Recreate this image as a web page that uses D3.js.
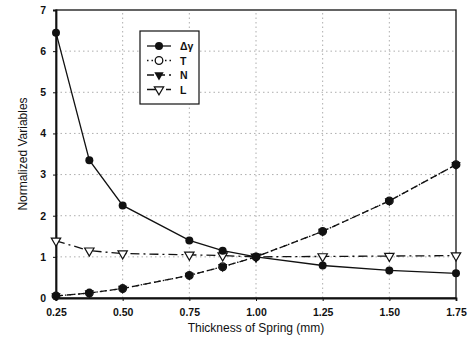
<!DOCTYPE html>
<html>
<head>
<meta charset="utf-8">
<script src="https://cdn.jsdelivr.net/npm/d3@7"></script>
<style>
  html, body { margin: 0; padding: 0; background: #fff; }
  svg { display: block; }
  text { font-family: "Liberation Sans", Arial, sans-serif; fill: #111; }
</style>
</head>
<body>
<svg id="chart" width="470" height="345"></svg>
<script>
// Spring thickness (mm)
const thickness = [0.25, 0.375, 0.5, 0.75, 0.875, 1.0, 1.25, 1.5, 1.75];
// Normalized variables per thickness
const deltaGamma = [6.45, 3.35, 2.25, 1.40, 1.15, 1.0, 0.79, 0.67, 0.60];
const tValues    = [0.05, 0.12, 0.23, 0.55, 0.76, 1.0, 1.62, 2.36, 3.24];
const nValues    = [0.05, 0.12, 0.23, 0.55, 0.76, 1.0, 1.62, 2.36, 3.24];
const lValues    = [1.39, 1.15, 1.08, 1.05, 1.03, 1.0, 1.01, 1.02, 1.03];

const xTicks = [0.25, 0.5, 0.75, 1.0, 1.25, 1.5, 1.75];
const yTicks = [0, 1, 2, 3, 4, 5, 6, 7];
const seriesNames = ["\u0394\u03b3", "T", "N", "L"];

const margin = { left: 56, right: 14, top: 10, bottom: 47 };
const W = 470, H = 345;
const svg = d3.select("#chart");

const x = d3.scaleLinear().domain([0.25, 1.75]).range([margin.left, W - margin.right]);
const y = d3.scaleLinear().domain([0, 7]).range([H - margin.bottom, margin.top]);

// grid
const grid = svg.append("g").attr("stroke", "#999").attr("stroke-width", 0.8)
  .attr("stroke-dasharray", "1.5,3");
grid.selectAll("line.h").data(yTicks.slice(1, -1)).join("line")
  .attr("x1", x(0.25)).attr("x2", x(1.75))
  .attr("y1", d => y(d)).attr("y2", d => y(d));
grid.selectAll("line.v").data(xTicks.slice(1, -1)).join("line")
  .attr("y1", y(0)).attr("y2", y(7))
  .attr("x1", d => x(d)).attr("x2", d => x(d));

// frame
svg.append("rect")
  .attr("x", x(0.25)).attr("y", y(7))
  .attr("width", x(1.75) - x(0.25)).attr("height", y(0) - y(7))
  .attr("fill", "none").attr("stroke", "#111").attr("stroke-width", 1.3);

// axes
const xAxis = svg.append("g").attr("transform", `translate(0,${y(0)})`)
  .call(d3.axisBottom(x).tickValues(xTicks).tickFormat(d3.format(".2f")).tickSize(3).tickPadding(8));
const yAxis = svg.append("g").attr("transform", `translate(${x(0.25)},0)`)
  .call(d3.axisLeft(y).tickValues(yTicks).tickFormat(d3.format("d")).tickSize(3).tickPadding(7));
[xAxis, yAxis].forEach(a => {
  a.select(".domain").attr("stroke", "#111").attr("stroke-width", 1.8);
  a.selectAll(".tick line").attr("stroke", "#111").attr("stroke-width", 1);
  a.selectAll(".tick text").attr("font-size", 10.5).attr("font-weight", "bold")
    .attr("font-family", "'Liberation Sans', Arial, sans-serif").attr("fill", "#111");
});

// axis titles
svg.append("text").attr("x", (x(0.25) + x(1.75)) / 2).attr("y", 332)
  .attr("text-anchor", "middle").attr("font-size", 12).text("Thickness of Spring (mm)");
svg.append("text").attr("transform", `translate(27,${(y(0) + y(7)) / 2}) rotate(-90)`)
  .attr("text-anchor", "middle").attr("font-size", 12).text("Normalized Variables");

const line = d3.line().x(d => x(d[0])).y(d => y(d[1]));
const zip = vals => thickness.map((t, i) => [t, vals[i]]);

const triDown = d3.symbol().type(d3.symbolTriangle).size(38);
function marker(g, kind, cx, cy) {
  if (kind === "circle") {
    g.append("circle").attr("cx", cx).attr("cy", cy).attr("r", 4).attr("fill", "#111");
  } else if (kind === "ring") {
    g.append("circle").attr("cx", cx).attr("cy", cy).attr("r", 3.8)
      .attr("fill", "#fff").attr("stroke", "#111").attr("stroke-width", 1.3);
  } else if (kind === "tri") {
    g.append("path").attr("d", triDown())
      .attr("transform", `translate(${cx},${cy}) rotate(180)`).attr("fill", "#111");
  } else if (kind === "hollowTri") {
    g.append("path").attr("d", triDown())
      .attr("transform", `translate(${cx},${cy}) rotate(180)`)
      .attr("fill", "#fff").attr("stroke", "#111").attr("stroke-width", 1.2);
  }
}

const series = [
  { name: seriesNames[3], vals: lValues, dash: "9,4,2,4", marker: "hollowTri" },
  { name: seriesNames[1], vals: tValues, dash: "1.5,3", marker: "ring" },
  { name: seriesNames[2], vals: nValues, dash: "7,4", marker: "tri" },
  { name: seriesNames[0], vals: deltaGamma, dash: null, marker: "circle" }
];

series.forEach(s => {
  svg.append("path").datum(zip(s.vals)).attr("d", line)
    .attr("fill", "none").attr("stroke", "#111").attr("stroke-width", 1.3)
    .attr("stroke-dasharray", s.dash);
});
series.forEach(s => {
  const g = svg.append("g");
  zip(s.vals).forEach(d => marker(g, s.marker, x(d[0]), y(d[1])));
});
// filled dots under N triangles give the heavy marker on the dashed curve
const nDots = svg.append("g");
zip(nValues).forEach(d => nDots.append("circle").attr("cx", x(d[0])).attr("cy", y(d[1]))
  .attr("r", 3.6).attr("fill", "#111"));

// legend
const legend = svg.append("g");
legend.append("rect").attr("x", 140).attr("y", 31).attr("width", 59).attr("height", 73)
  .attr("fill", "#fff").attr("stroke", "#111").attr("stroke-width", 1.2);
const legendItems = [
  { name: seriesNames[0], dash: null, marker: "circle" },
  { name: seriesNames[1], dash: "1.5,3", marker: "ring" },
  { name: seriesNames[2], dash: "7,4", marker: "tri" },
  { name: seriesNames[3], dash: "9,4,2,4", marker: "hollowTri" }
];
legendItems.forEach((it, i) => {
  const cy = 46 + i * 14.5;
  legend.append("line").attr("x1", 147).attr("x2", 171).attr("y1", cy).attr("y2", cy)
    .attr("stroke", "#111").attr("stroke-width", 1.3).attr("stroke-dasharray", it.dash);
  marker(legend, it.marker, 159, cy);
  legend.append("text").attr("x", 180).attr("y", cy + 4).attr("font-size", 10.5)
    .attr("font-weight", "bold").text(it.name);
});
</script>
</body>
</html>
